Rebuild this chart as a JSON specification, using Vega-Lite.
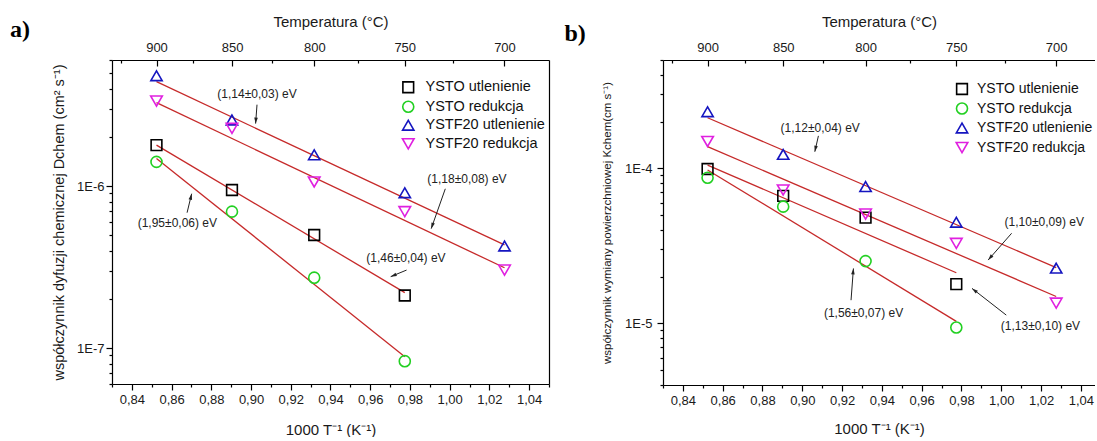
{
  "$schema": "https://vega.github.io/schema/vega-lite/v6.json",
  "background": "white",
  "padding": {"left": 10, "top": 14, "right": 0, "bottom": 0},
  "bounds": "flush",
  "spacing": 114,
  "config": {
    "font": "Liberation Sans",
    "view": {"stroke": null},
    "axis": {
      "labelFont": "Liberation Sans", "titleFont": "Liberation Sans",
      "domainColor": "#000", "tickColor": "#000", "labelColor": "#1a1a1a", "titleColor": "#1a1a1a",
      "grid": false, "titleFontWeight": "normal", "labelFontSize": 13,
      "domainWidth": 1.2, "tickWidth": 1.2, "labelFlush": false, "labelOverlap": false
    },
    "legend": {
      "labelFont": "Liberation Sans", "labelFontSize": 14.5, "labelColor": "#111",
      "symbolStrokeWidth": 1.6, "rowPadding": 1.5, "labelOffset": 10, "padding": 0
    }
  },
  "datasets": {
    "ptsA": [
      {"series": "YSTO utlenienie", "x": 0.8524, "y": 1.79e-6},
      {"series": "YSTO utlenienie", "x": 0.8904, "y": 9.46e-7},
      {"series": "YSTO utlenienie", "x": 0.9318, "y": 4.99e-7},
      {"series": "YSTO utlenienie", "x": 0.9774, "y": 2.11e-7},
      {"series": "YSTO redukcja", "x": 0.8524, "y": 1.41e-6},
      {"series": "YSTO redukcja", "x": 0.8904, "y": 6.95e-7},
      {"series": "YSTO redukcja", "x": 0.9318, "y": 2.72e-7},
      {"series": "YSTO redukcja", "x": 0.9774, "y": 8.3e-8},
      {"series": "YSTF20 utlenienie", "x": 0.8524, "y": 4.8e-6},
      {"series": "YSTF20 utlenienie", "x": 0.8904, "y": 2.56e-6},
      {"series": "YSTF20 utlenienie", "x": 0.9318, "y": 1.56e-6},
      {"series": "YSTF20 utlenienie", "x": 0.9774, "y": 9.1e-7},
      {"series": "YSTF20 utlenienie", "x": 1.0276, "y": 4.27e-7},
      {"series": "YSTF20 redukcja", "x": 0.8524, "y": 3.35e-6},
      {"series": "YSTF20 redukcja", "x": 0.8904, "y": 2.27e-6},
      {"series": "YSTF20 redukcja", "x": 0.9318, "y": 1.06e-6},
      {"series": "YSTF20 redukcja", "x": 0.9774, "y": 6.95e-7},
      {"series": "YSTF20 redukcja", "x": 1.0276, "y": 3.03e-7}
    ],
    "fitA": [
      {"series": "YSTF20 utlenienie", "x": 0.8524, "y": 4.41e-6},
      {"series": "YSTF20 utlenienie", "x": 1.0276, "y": 4.33e-7},
      {"series": "YSTF20 redukcja", "x": 0.8524, "y": 3.27e-6},
      {"series": "YSTF20 redukcja", "x": 1.0276, "y": 3.13e-7},
      {"series": "YSTO utlenienie", "x": 0.8524, "y": 1.79e-6},
      {"series": "YSTO utlenienie", "x": 0.9774, "y": 2.2e-7},
      {"series": "YSTO redukcja", "x": 0.8524, "y": 1.48e-6},
      {"series": "YSTO redukcja", "x": 0.9774, "y": 8.85e-8}
    ],
    "annA": [
      {"id": "a1", "label": "(1,14±0,03) eV", "x": 0.9030, "y": 3.72e-6, "tx": 0.9030, "ty": 3.18e-6, "hx": 0.9023, "hy": 2.43e-6},
      {"id": "a2", "label": "(1,18±0,08) eV", "x": 1.0087, "y": 1.10e-6, "tx": 0.9978, "ty": 9.62e-7, "hx": 0.9907, "hy": 5.46e-7},
      {"id": "a3", "label": "(1,95±0,06) eV", "x": 0.8629, "y": 5.88e-7, "tx": 0.8678, "ty": 6.85e-7, "hx": 0.8701, "hy": 8.97e-7},
      {"id": "a4", "label": "(1,46±0,04) eV", "x": 0.9780, "y": 3.61e-7, "tx": 0.9783, "ty": 3.03e-7, "hx": 0.9703, "hy": 2.76e-7}
    ],
    "ptsB": [
      {"series": "YSTO utlenienie", "x": 0.8524, "y": 9.9e-5},
      {"series": "YSTO utlenienie", "x": 0.8904, "y": 6.64e-5},
      {"series": "YSTO utlenienie", "x": 0.9318, "y": 4.81e-5},
      {"series": "YSTO utlenienie", "x": 0.9774, "y": 1.79e-5},
      {"series": "YSTO redukcja", "x": 0.8524, "y": 8.7e-5},
      {"series": "YSTO redukcja", "x": 0.8904, "y": 5.66e-5},
      {"series": "YSTO redukcja", "x": 0.9318, "y": 2.52e-5},
      {"series": "YSTO redukcja", "x": 0.9774, "y": 9.4e-6},
      {"series": "YSTF20 utlenienie", "x": 0.8524, "y": 2.32e-4},
      {"series": "YSTF20 utlenienie", "x": 0.8904, "y": 1.23e-4},
      {"series": "YSTF20 utlenienie", "x": 0.9318, "y": 7.62e-5},
      {"series": "YSTF20 utlenienie", "x": 0.9774, "y": 4.49e-5},
      {"series": "YSTF20 utlenienie", "x": 1.0276, "y": 2.27e-5},
      {"series": "YSTF20 redukcja", "x": 0.8524, "y": 1.49e-4},
      {"series": "YSTF20 redukcja", "x": 0.8904, "y": 7.25e-5},
      {"series": "YSTF20 redukcja", "x": 0.9318, "y": 5.07e-5},
      {"series": "YSTF20 redukcja", "x": 0.9774, "y": 3.28e-5},
      {"series": "YSTF20 redukcja", "x": 1.0276, "y": 1.35e-5}
    ],
    "fitB": [
      {"series": "YSTF20 utlenienie", "x": 0.8524, "y": 2.12e-4},
      {"series": "YSTF20 utlenienie", "x": 1.0276, "y": 2.29e-5},
      {"series": "YSTF20 redukcja", "x": 0.8524, "y": 1.38e-4},
      {"series": "YSTF20 redukcja", "x": 1.0276, "y": 1.49e-5},
      {"series": "YSTO utlenienie", "x": 0.8524, "y": 1.05e-4},
      {"series": "YSTO utlenienie", "x": 0.9774, "y": 2.12e-5},
      {"series": "YSTO redukcja", "x": 0.8524, "y": 9.76e-5},
      {"series": "YSTO redukcja", "x": 0.9774, "y": 1.03e-5}
    ],
    "annB": [
      {"id": "b1", "label": "(1,12±0,04) eV", "x": 0.9090, "y": 1.81e-4, "tx": 0.9081, "ty": 1.62e-4, "hx": 0.9063, "hy": 1.28e-4},
      {"id": "b2", "label": "(1,10±0,09) eV", "x": 1.0216, "y": 4.49e-5, "tx": 1.0052, "ty": 3.81e-5, "hx": 0.9934, "hy": 2.56e-5},
      {"id": "b3", "label": "(1,56±0,07) eV", "x": 0.9308, "y": 1.17e-5, "tx": 0.9245, "ty": 1.41e-5, "hx": 0.9257, "hy": 2.26e-5},
      {"id": "b4", "label": "(1,13±0,10) eV", "x": 1.0197, "y": 9.61e-6, "tx": 1.0025, "ty": 1.13e-5, "hx": 0.9853, "hy": 1.68e-5}
    ],
    "labA": [{"t": "a)", "x": 0.7837, "y": 9.2e-6}],
    "labB": [{"t": "b)", "x": 0.7858, "y": 7.4e-4}]
  },
  "hconcat": [
    {
      "width": 437,
      "height": 324,
      "layer": [
        {
          "data": {"name": "fitA"},
          "mark": {"type": "line", "color": "#c62a2a", "strokeWidth": 1.3},
          "encoding": {
            "x": {"field": "x", "type": "quantitative", "scale": {"domain": [0.83, 1.05], "zero": false, "nice": false},
              "axis": {"orient": "bottom", "values": [0.84, 0.86, 0.88, 0.9, 0.92, 0.94, 0.96, 0.98, 1.0, 1.02, 1.04],
                "labelExpr": "replace(format(datum.value, '.2f'), '.', ',')", "tickSize": 6, "labelPadding": 3,
                "domain": true, "title": "1000 T⁻¹ (K⁻¹)", "titleFontSize": 15, "titlePadding": 16}},
            "y": {"field": "y", "type": "quantitative", "scale": {"type": "log", "domain": [6e-8, 6e-6], "nice": false},
              "axis": {"orient": "left", "values": [1e-7, 1e-6], "labelExpr": "'1E' + round(log(datum.value)/LN10)",
                "tickSize": 6, "labelPadding": 2, "domain": true,
                "title": "współczynnik dyfuzji chemicznej Dchem (cm² s⁻¹)", "titleFontSize": 14.5, "titlePadding": 10}},
            "detail": {"field": "series", "type": "nominal"}
          }
        },
        {
          "data": {"name": "ptsA"},
          "mark": {"type": "point", "filled": false, "strokeWidth": 1.6, "opacity": 1},
          "encoding": {
            "x": {"field": "x", "type": "quantitative", "scale": {"domain": [0.83, 1.05], "zero": false, "nice": false},
              "axis": {"orient": "bottom", "values": [0.83, 0.85, 0.87, 0.89, 0.91, 0.93, 0.95, 0.97, 0.99, 1.01, 1.03, 1.05],
                "labels": false, "tickSize": 3, "domain": false, "title": null}},
            "y": {"field": "y", "type": "quantitative", "scale": {"type": "log", "domain": [6e-8, 6e-6], "nice": false},
              "axis": {"orient": "left", "values": [6e-8, 7e-8, 8e-8, 9e-8, 2e-7, 3e-7, 4e-7, 5e-7, 6e-7, 7e-7, 8e-7, 9e-7, 2e-6, 3e-6, 4e-6, 5e-6, 6e-6],
                "labels": false, "tickSize": 3, "domain": false, "title": null}},
            "color": {"field": "series", "type": "nominal",
              "scale": {"domain": ["YSTO utlenienie", "YSTO redukcja", "YSTF20 utlenienie", "YSTF20 redukcja"], "range": ["#000000", "#22d022", "#1515c0", "#e020e0"]},
              "legend": {"title": null, "orient": "none", "legendX": 289, "legendY": 20}},
            "shape": {"field": "series", "type": "nominal",
              "scale": {"domain": ["YSTO utlenienie", "YSTO redukcja", "YSTF20 utlenienie", "YSTF20 redukcja"], "range": ["square", "circle", "triangle-up", "triangle-down"]},
              "legend": {"title": null, "orient": "none", "legendX": 289, "legendY": 20}},
            "size": {"field": "series", "type": "nominal",
              "scale": {"domain": ["YSTO utlenienie", "YSTO redukcja", "YSTF20 utlenienie", "YSTF20 redukcja"], "range": [115, 135, 175, 175]},
              "legend": {"title": null, "orient": "none", "legendX": 289, "legendY": 20}}
          }
        },
        {
          "data": {"name": "annA"},
          "mark": {"type": "text", "fontSize": 12, "color": "#222", "align": "center", "baseline": "middle"},
          "encoding": {
            "x": {"field": "x", "type": "quantitative", "scale": {"domain": [0.83, 1.05], "zero": false, "nice": false},
              "axis": {"orient": "top", "values": [0.852406, 0.890433, 0.931836, 0.977374, 1.027591],
                "labelExpr": "'' + round(1000/datum.value - 273.15)", "tickSize": -6, "labelPadding": 12,
                "domain": true, "title": "Temperatura (°C)", "titleFontSize": 15, "titlePadding": 12}},
            "y": {"field": "y", "type": "quantitative", "scale": {"type": "log", "domain": [6e-8, 6e-6], "nice": false},
              "axis": {"orient": "right", "ticks": false, "labels": false, "domain": true, "title": null}},
            "text": {"field": "label", "type": "nominal"}
          }
        },
        {
          "data": {"name": "annA"},
          "mark": {"type": "rule", "color": "#222", "strokeWidth": 1},
          "encoding": {
            "x": {"field": "tx", "type": "quantitative", "scale": {"domain": [0.83, 1.05], "zero": false, "nice": false},
              "axis": {"orient": "top", "values": [0.83462, 0.870967, 0.910623, 0.954062, 1.001853],
                "labels": false, "tickSize": -3, "domain": false, "title": null}},
            "y": {"field": "ty", "type": "quantitative", "scale": {"type": "log", "domain": [6e-8, 6e-6], "nice": false}, "axis": null},
            "x2": {"field": "hx"},
            "y2": {"field": "hy"}
          }
        },
        {
          "data": {"name": "annA"},
          "transform": [{"filter": "datum.id == 'a1'"}],
          "mark": {"type": "point", "shape": "M0,0L0.6,2L-0.6,2Z", "size": 36, "filled": true, "color": "#222", "opacity": 1, "angle": 184},
          "encoding": {
            "x": {"field": "hx", "type": "quantitative", "scale": {"domain": [0.83, 1.05], "zero": false, "nice": false}, "axis": null},
            "y": {"field": "hy", "type": "quantitative", "scale": {"type": "log", "domain": [6e-8, 6e-6], "nice": false}, "axis": null}
          }
        },
        {
          "data": {"name": "annA"},
          "transform": [{"filter": "datum.id == 'a2'"}],
          "mark": {"type": "point", "shape": "M0,0L0.6,2L-0.6,2Z", "size": 36, "filled": true, "color": "#222", "opacity": 1, "angle": 199},
          "encoding": {
            "x": {"field": "hx", "type": "quantitative", "scale": {"domain": [0.83, 1.05], "zero": false, "nice": false}, "axis": null},
            "y": {"field": "hy", "type": "quantitative", "scale": {"type": "log", "domain": [6e-8, 6e-6], "nice": false}, "axis": null}
          }
        },
        {
          "data": {"name": "annA"},
          "transform": [{"filter": "datum.id == 'a3'"}],
          "mark": {"type": "point", "shape": "M0,0L0.6,2L-0.6,2Z", "size": 36, "filled": true, "color": "#222", "opacity": 1, "angle": 13},
          "encoding": {
            "x": {"field": "hx", "type": "quantitative", "scale": {"domain": [0.83, 1.05], "zero": false, "nice": false}, "axis": null},
            "y": {"field": "hy", "type": "quantitative", "scale": {"type": "log", "domain": [6e-8, 6e-6], "nice": false}, "axis": null}
          }
        },
        {
          "data": {"name": "annA"},
          "transform": [{"filter": "datum.id == 'a4'"}],
          "mark": {"type": "point", "shape": "M0,0L0.6,2L-0.6,2Z", "size": 36, "filled": true, "color": "#222", "opacity": 1, "angle": 247},
          "encoding": {
            "x": {"field": "hx", "type": "quantitative", "scale": {"domain": [0.83, 1.05], "zero": false, "nice": false}, "axis": null},
            "y": {"field": "hy", "type": "quantitative", "scale": {"type": "log", "domain": [6e-8, 6e-6], "nice": false}, "axis": null}
          }
        },
        {
          "data": {"name": "labA"},
          "mark": {"type": "text", "font": "Liberation Serif", "fontSize": 24, "fontWeight": "bold", "color": "#000", "align": "center", "baseline": "middle", "clip": false},
          "encoding": {
            "x": {"field": "x", "type": "quantitative", "scale": {"domain": [0.83, 1.05], "zero": false, "nice": false}, "axis": null},
            "y": {"field": "y", "type": "quantitative", "scale": {"type": "log", "domain": [6e-8, 6e-6], "nice": false}, "axis": null},
            "text": {"field": "t", "type": "nominal"}
          }
        }
      ],
      "resolve": {"axis": {"x": "independent", "y": "independent"}}
    },
    {
      "width": 432,
      "height": 325,
      "layer": [
        {
          "data": {"name": "fitB"},
          "mark": {"type": "line", "color": "#c62a2a", "strokeWidth": 1.3},
          "encoding": {
            "x": {"field": "x", "type": "quantitative", "scale": {"domain": [0.83, 1.0471], "zero": false, "nice": false},
              "axis": {"orient": "bottom", "values": [0.84, 0.86, 0.88, 0.9, 0.92, 0.94, 0.96, 0.98, 1.0, 1.02, 1.04],
                "labelExpr": "replace(format(datum.value, '.2f'), '.', ',')", "tickSize": 6, "labelPadding": 3,
                "domain": true, "title": "1000 T⁻¹ (K⁻¹)", "titleFontSize": 15, "titlePadding": 14}},
            "y": {"field": "y", "type": "quantitative", "scale": {"type": "log", "domain": [4e-6, 5e-4], "nice": false},
              "axis": {"orient": "left", "values": [1e-5, 1e-4], "labelExpr": "'1E' + round(log(datum.value)/LN10)",
                "tickSize": 6, "labelPadding": 5, "domain": true,
                "title": "współczynnik wymiany powierzchniowej Kchem(cm s⁻¹)", "titleFontSize": 11.5, "titlePadding": 12}},
            "detail": {"field": "series", "type": "nominal"}
          }
        },
        {
          "data": {"name": "ptsB"},
          "mark": {"type": "point", "filled": false, "strokeWidth": 1.6, "opacity": 1},
          "encoding": {
            "x": {"field": "x", "type": "quantitative", "scale": {"domain": [0.83, 1.0471], "zero": false, "nice": false},
              "axis": {"orient": "bottom", "values": [0.83, 0.85, 0.87, 0.89, 0.91, 0.93, 0.95, 0.97, 0.99, 1.01, 1.03],
                "labels": false, "tickSize": 3, "domain": false, "title": null}},
            "y": {"field": "y", "type": "quantitative", "scale": {"type": "log", "domain": [4e-6, 5e-4], "nice": false},
              "axis": {"orient": "left", "values": [4e-6, 5e-6, 6e-6, 7e-6, 8e-6, 9e-6, 2e-5, 3e-5, 4e-5, 5e-5, 6e-5, 7e-5, 8e-5, 9e-5, 2e-4, 3e-4, 4e-4, 5e-4],
                "labels": false, "tickSize": 3, "domain": false, "title": null}},
            "color": {"field": "series", "type": "nominal",
              "scale": {"domain": ["YSTO utlenienie", "YSTO redukcja", "YSTF20 utlenienie", "YSTF20 redukcja"], "range": ["#000000", "#22d022", "#1515c0", "#e020e0"]},
              "legend": {"title": null, "orient": "none", "legendX": 292, "legendY": 22, "labelFontSize": 14, "labelOffset": 8}},
            "shape": {"field": "series", "type": "nominal",
              "scale": {"domain": ["YSTO utlenienie", "YSTO redukcja", "YSTF20 utlenienie", "YSTF20 redukcja"], "range": ["square", "circle", "triangle-up", "triangle-down"]},
              "legend": {"title": null, "orient": "none", "legendX": 292, "legendY": 22, "labelFontSize": 14, "labelOffset": 8}},
            "size": {"field": "series", "type": "nominal",
              "scale": {"domain": ["YSTO utlenienie", "YSTO redukcja", "YSTF20 utlenienie", "YSTF20 redukcja"], "range": [115, 135, 175, 175]},
              "legend": {"title": null, "orient": "none", "legendX": 292, "legendY": 22, "labelFontSize": 14, "labelOffset": 8}}
          }
        },
        {
          "data": {"name": "annB"},
          "mark": {"type": "text", "fontSize": 12, "color": "#222", "align": "center", "baseline": "middle"},
          "encoding": {
            "x": {"field": "x", "type": "quantitative", "scale": {"domain": [0.83, 1.0471], "zero": false, "nice": false},
              "axis": {"orient": "top", "values": [0.852406, 0.890433, 0.931836, 0.977374, 1.027591],
                "labelExpr": "'' + round(1000/datum.value - 273.15)", "tickSize": -6, "labelPadding": 12,
                "domain": true, "title": "Temperatura (°C)", "titleFontSize": 15, "titlePadding": 12}},
            "y": {"field": "y", "type": "quantitative", "scale": {"type": "log", "domain": [4e-6, 5e-4], "nice": false}, "axis": null},
            "text": {"field": "label", "type": "nominal"}
          }
        },
        {
          "data": {"name": "annB"},
          "mark": {"type": "rule", "color": "#222", "strokeWidth": 1},
          "encoding": {
            "x": {"field": "tx", "type": "quantitative", "scale": {"domain": [0.83, 1.0471], "zero": false, "nice": false},
              "axis": {"orient": "top", "values": [0.83462, 0.870967, 0.910623, 0.954062, 1.001853],
                "labels": false, "tickSize": -3, "domain": false, "title": null}},
            "y": {"field": "ty", "type": "quantitative", "scale": {"type": "log", "domain": [4e-6, 5e-4], "nice": false}, "axis": null},
            "x2": {"field": "hx"},
            "y2": {"field": "hy"}
          }
        },
        {
          "data": {"name": "annB"},
          "transform": [{"filter": "datum.id == 'b1'"}],
          "mark": {"type": "point", "shape": "M0,0L0.6,2L-0.6,2Z", "size": 36, "filled": true, "color": "#222", "opacity": 1, "angle": 192},
          "encoding": {
            "x": {"field": "hx", "type": "quantitative", "scale": {"domain": [0.83, 1.0471], "zero": false, "nice": false}, "axis": null},
            "y": {"field": "hy", "type": "quantitative", "scale": {"type": "log", "domain": [4e-6, 5e-4], "nice": false}, "axis": null}
          }
        },
        {
          "data": {"name": "annB"},
          "transform": [{"filter": "datum.id == 'b2'"}],
          "mark": {"type": "point", "shape": "M0,0L0.6,2L-0.6,2Z", "size": 36, "filled": true, "color": "#222", "opacity": 1, "angle": 221},
          "encoding": {
            "x": {"field": "hx", "type": "quantitative", "scale": {"domain": [0.83, 1.0471], "zero": false, "nice": false}, "axis": null},
            "y": {"field": "hy", "type": "quantitative", "scale": {"type": "log", "domain": [4e-6, 5e-4], "nice": false}, "axis": null}
          }
        },
        {
          "data": {"name": "annB"},
          "transform": [{"filter": "datum.id == 'b3'"}],
          "mark": {"type": "point", "shape": "M0,0L0.6,2L-0.6,2Z", "size": 36, "filled": true, "color": "#222", "opacity": 1, "angle": 5},
          "encoding": {
            "x": {"field": "hx", "type": "quantitative", "scale": {"domain": [0.83, 1.0471], "zero": false, "nice": false}, "axis": null},
            "y": {"field": "hy", "type": "quantitative", "scale": {"type": "log", "domain": [4e-6, 5e-4], "nice": false}, "axis": null}
          }
        },
        {
          "data": {"name": "annB"},
          "transform": [{"filter": "datum.id == 'b4'"}],
          "mark": {"type": "point", "shape": "M0,0L0.6,2L-0.6,2Z", "size": 36, "filled": true, "color": "#222", "opacity": 1, "angle": 308},
          "encoding": {
            "x": {"field": "hx", "type": "quantitative", "scale": {"domain": [0.83, 1.0471], "zero": false, "nice": false}, "axis": null},
            "y": {"field": "hy", "type": "quantitative", "scale": {"type": "log", "domain": [4e-6, 5e-4], "nice": false}, "axis": null}
          }
        },
        {
          "data": {"name": "labB"},
          "mark": {"type": "text", "font": "Liberation Serif", "fontSize": 24, "fontWeight": "bold", "color": "#000", "align": "center", "baseline": "middle", "clip": false},
          "encoding": {
            "x": {"field": "x", "type": "quantitative", "scale": {"domain": [0.83, 1.0471], "zero": false, "nice": false}, "axis": null},
            "y": {"field": "y", "type": "quantitative", "scale": {"type": "log", "domain": [4e-6, 5e-4], "nice": false}, "axis": null},
            "text": {"field": "t", "type": "nominal"}
          }
        }
      ],
      "resolve": {"axis": {"x": "independent", "y": "independent"}}
    }
  ],
  "resolve": {"legend": {"color": "independent", "shape": "independent", "size": "independent"}}
}
